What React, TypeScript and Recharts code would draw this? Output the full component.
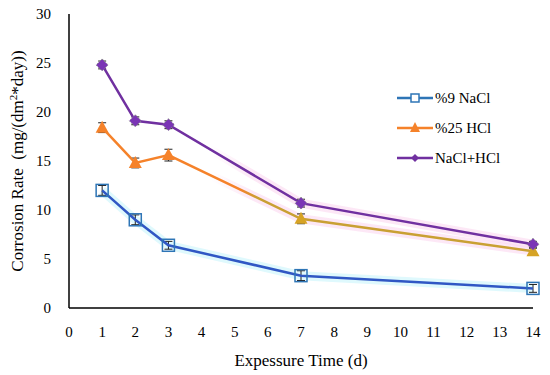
import React from 'react'
import { LineChart, Line, XAxis, YAxis, ErrorBar } from 'recharts'

const days = [1, 2, 3, 7, 14]
const nacl = [12.0, 9.0, 6.4, 3.3, 2.0]
const hcl = [18.4, 14.8, 15.6, 9.1, 5.8]
const mixed = [24.8, 19.1, 18.7, 10.7, 6.5]
const naclErr = [0.5, 0.5, 0.4, 0.5, 0.4]
const hclErr = [0.5, 0.5, 0.6, 0.5, 0.3]
const mixedErr = [0.4, 0.4, 0.4, 0.4, 0.3]
const xTicks = [0, 1, 2, 3, 4, 5, 6, 7, 8, 9, 10, 11, 12, 13, 14]
const yTicks = [0, 5, 10, 15, 20, 25, 30]

const data = days.map((d, i) => ({
  day: d,
  nacl: nacl[i],
  hcl: hcl[i],
  mixed: mixed[i],
  naclErr: naclErr[i],
  hclErr: hclErr[i],
  mixedErr: mixedErr[i],
}))

const FONT = '"Liberation Serif", "DejaVu Serif", serif'
const BLUE = '#3057c4'
const BLUE_M = '#2e75b6'
const ORANGE = '#f5822a'
const GOLD = '#c9a033'
const GOLD_M = '#d6a325'
const PURPLE = '#7030a0'

const SquareDot = (p: any) => {
  const { cx, cy } = p
  if (cx == null || cy == null) return null
  return <rect x={cx - 6} y={cy - 6} width={12} height={12} fill="none" stroke={BLUE_M} strokeWidth={1.5} />
}

const TriDot = (p: any) => {
  const { cx, cy, index } = p
  if (cx == null || cy == null) return null
  return <path d={`M${cx},${cy - 7} L${cx + 6.5},${cy + 5} L${cx - 6.5},${cy + 5} Z`} fill={index >= 3 ? GOLD_M : ORANGE} />
}

const DiamondDot = (p: any) => {
  const { cx, cy } = p
  if (cx == null || cy == null) return null
  return (
    <path
      d={`M${cx},${cy - 6} L${cx + 6},${cy} L${cx},${cy + 6} L${cx - 6},${cy} Z`}
      fill="#7a35b5"
      stroke="#888"
      strokeWidth={1}
      strokeDasharray="1.5 1.5"
    />
  )
}

const legendItems = [
  { label: '%9 NaCl', color: BLUE_M, kind: 'square' },
  { label: '%25 HCl', color: ORANGE, kind: 'tri' },
  { label: 'NaCl+HCl', color: PURPLE, kind: 'diamond' },
]

const LegendBox = () => (
  <div style={{ position: 'absolute', left: 397, top: 83, fontFamily: FONT, fontSize: 15, color: '#000' }}>
    {legendItems.map((it) => (
      <div key={it.label} style={{ display: 'flex', alignItems: 'center', height: 30 }}>
        <svg width={36} height={14}>
          <line x1={0} y1={7} x2={36} y2={7} stroke={it.color} strokeWidth={2.5} />
          {it.kind === 'square' && <rect x={14} y={3} width={8} height={8} fill="#fff" stroke={it.color} strokeWidth={1.5} />}
          {it.kind === 'tri' && <path d="M18,1 L23,11 L13,11 Z" fill={it.color} />}
          {it.kind === 'diamond' && <path d="M18,3 L22,7 L18,11 L14,7 Z" fill={it.color} />}
        </svg>
        <span style={{ marginLeft: 2 }}>{it.label}</span>
      </div>
    ))}
  </div>
)

const YLabel = () => (
  <text
    transform="translate(23, 161) rotate(-90)"
    textAnchor="middle"
    fontFamily={FONT}
    fontSize={17}
    fill="#000"
  >
    {'Corrosion Rate\u00A0\u00A0(mg/(dm'}
    <tspan dy={-6} fontSize={11}>2</tspan>
    <tspan dy={6}>*day))</tspan>
  </text>
)

export default function App() {
  return (
    <div style={{ position: 'absolute', left: 0, top: 0, width: 550, height: 375, background: '#fff' }}>
      <LineChart width={550} height={375} data={data} margin={{ top: 14, right: 17, bottom: 0, left: 0 }}>
        <defs>
          <linearGradient id="hclStroke" x1="0" y1="0" x2="1" y2="0">
            <stop offset="0.32" stopColor={ORANGE} />
            <stop offset="0.36" stopColor={GOLD} />
          </linearGradient>
          <linearGradient id="pinkGlow" x1="0" y1="0" x2="1" y2="0">
            <stop offset="0.25" stopColor="#fbd8f0" stopOpacity={0} />
            <stop offset="0.35" stopColor="#fbd8f0" stopOpacity={0.6} />
          </linearGradient>
        </defs>
        <XAxis
          dataKey="day"
          type="number"
          domain={[0, 14]}
          ticks={xTicks}
          interval={0}
          height={67}
          tickLine={false}
          axisLine={{ stroke: '#000', strokeWidth: 1.5 }}
          tick={{ fill: '#000', fontFamily: FONT, fontSize: 15 }}
          tickMargin={12}
          label={{ value: 'Expessure Time (d)', position: 'insideBottom', offset: 9, fill: '#000', fontFamily: FONT, fontSize: 17 }}
        />
        <YAxis
          type="number"
          domain={[0, 30]}
          ticks={yTicks}
          interval={0}
          width={69}
          tickLine={false}
          axisLine={{ stroke: '#000', strokeWidth: 1.5 }}
          tick={{ fill: '#000', fontFamily: FONT, fontSize: 15 }}
          tickMargin={12}
          label={<YLabel />}
        />
        <Line dataKey="nacl" stroke="#bff4fb" strokeWidth={9} dot={false} isAnimationActive={false} strokeOpacity={0.5} />
        <Line dataKey="hcl" stroke="url(#pinkGlow)" strokeWidth={9} dot={false} isAnimationActive={false} />
        <Line dataKey="mixed" stroke="url(#pinkGlow)" strokeWidth={9} dot={false} isAnimationActive={false} />
        <Line dataKey="nacl" stroke={BLUE} strokeWidth={2.5} dot={<SquareDot />} isAnimationActive={false}>
          <ErrorBar dataKey="naclErr" width={4} stroke="#222" strokeWidth={1} direction="y" />
        </Line>
        <Line dataKey="hcl" stroke="url(#hclStroke)" strokeWidth={2.5} dot={<TriDot />} isAnimationActive={false}>
          <ErrorBar dataKey="hclErr" width={4} stroke="#222" strokeWidth={1} direction="y" />
        </Line>
        <Line dataKey="mixed" stroke={PURPLE} strokeWidth={2.5} dot={<DiamondDot />} isAnimationActive={false}>
          <ErrorBar dataKey="mixedErr" width={4} stroke="#222" strokeWidth={1} direction="y" />
        </Line>
      </LineChart>
      <LegendBox />
    </div>
  )
}
